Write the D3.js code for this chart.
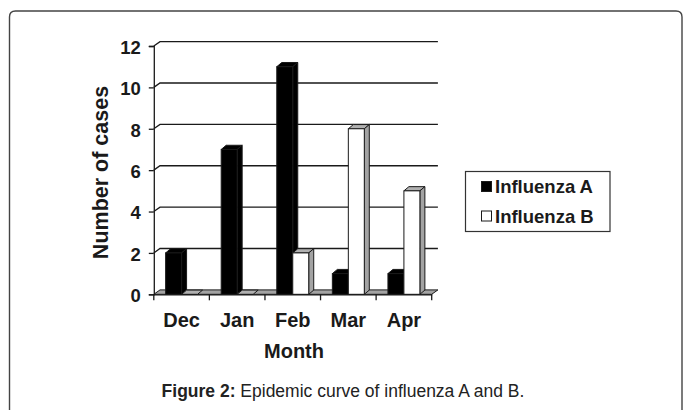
<!DOCTYPE html>
<html><head><meta charset="utf-8">
<script src="https://cdn.jsdelivr.net/npm/d3@7"></script>
<style>
html,body{margin:0;padding:0;background:#fff;}
svg{display:block;font-family:"Liberation Sans",Arial,sans-serif;}
</style></head>
<body>
<svg id="c" width="683" height="410"></svg>
<script>
const months = ["Dec","Jan","Feb","Mar","Apr"];
const series = ["Influenza A","Influenza B"];
const influenzaA = [2,7,11,1,1];
const influenzaB = [0,0,2,8,5];
const yTicks = [0,2,4,6,8,10,12];
const yTitle = "Number of cases";
const xTitle = "Month";
const captionBold = "Figure 2:";
const captionText = " Epidemic curve of influenza A and B.";

const svg = d3.select("#c");
const ink = "#1a1a1a";

// frame
svg.append("path")
  .attr("d","M9.5,420 L9.5,17 Q9.5,11 15.5,11 L676,11 Q682,11 682,17 L682,420")
  .attr("fill","none").attr("stroke","#444").attr("stroke-width",1.4);

const x0 = d3.scaleBand().domain(months).range([153.8,431.7]).paddingInner(0).paddingOuter(0);
const x1 = d3.scaleBand().domain(series).range([0,x0.bandwidth()]).paddingInner(0).paddingOuter(0.74);
const y = d3.scaleLinear().domain([0,12]).range([294.3,46]);

const wdx = 6.2, wdy = -4.4;   // wall depth
const bdx = 5, bdy = -4.2;     // bar depth
const xL = x0.range()[0], xR = x0.range()[1];

// gridlines on back wall + side wall diagonals
const g = svg.append("g");
yTicks.forEach(t=>{
  const yy = y(t);
  if(t>0){
    g.append("path").attr("d",`M${xL},${yy} L${xL+wdx},${yy+wdy} L${xR+wdx},${yy+wdy}`)
      .attr("fill","none").attr("stroke",ink).attr("stroke-width",1.3);
  }
});

// floor
svg.append("path")
  .attr("d",`M${xL},${y(0)} L${xL+wdx},${y(0)+wdy} L${xR+wdx},${y(0)+wdy} L${xR},${y(0)} Z`)
  .attr("fill","#a3a3a3").attr("stroke",ink).attr("stroke-width",1);

// y axis
const yAxis = d3.axisLeft(y).tickValues(yTicks).tickSize(5).tickPadding(10).tickFormat(d3.format("d"));
const ya = svg.append("g").attr("transform",`translate(${xL},0)`).call(yAxis);
ya.select(".domain").attr("stroke",ink).attr("stroke-width",1.3);
ya.selectAll(".tick line").attr("stroke",ink).attr("stroke-width",1.3);
ya.selectAll(".tick text").attr("font-size","18.5px").attr("font-weight","bold").attr("fill",ink)
  .attr("font-family","'Liberation Sans',Arial,sans-serif").attr("dy","0.4em").attr("x",-13);

// bars
function bar(xs, v, front, side, top){
  const w = x1.bandwidth();
  const yb = y(0), yt = y(v);
  const gg = svg.append("g");
  gg.append("path").attr("d",`M${xs},${yt} L${xs+bdx},${yt+bdy} L${xs+w+bdx},${yt+bdy} L${xs+w},${yt} Z`)
    .attr("fill",top).attr("stroke",ink).attr("stroke-width",1);
  if(v>0){
    gg.append("path").attr("d",`M${xs+w},${yt} L${xs+w+bdx},${yt+bdy} L${xs+w+bdx},${yb+bdy} L${xs+w},${yb} Z`)
      .attr("fill",side).attr("stroke",ink).attr("stroke-width",1);
    gg.append("rect").attr("x",xs).attr("y",yt).attr("width",w).attr("height",yb-yt)
      .attr("fill",front).attr("stroke",ink).attr("stroke-width",1);
  }
}
months.forEach((m,i)=>{
  bar(x0(m)+x1(series[0]), influenzaA[i], "#000", "#000", "#000");
  bar(x0(m)+x1(series[1]), influenzaB[i], "#fff", "#a3a3a3", "#b0b0b0");
});

// x axis
const xAxis = d3.axisBottom(x0).tickSize(0).tickPadding(19);
const xa = svg.append("g").attr("transform",`translate(0,${y(0)})`).call(xAxis);
xa.select(".domain").attr("stroke",ink).attr("stroke-width",1.3);
xa.selectAll(".tick text").attr("font-size","20px").attr("font-weight","bold").attr("fill",ink)
  .attr("font-family","'Liberation Sans',Arial,sans-serif");
// category separator ticks
const seps = months.map(m=>x0(m)).concat([xR]);
svg.append("g").selectAll("line").data(seps).join("line")
  .attr("x1",d=>d).attr("x2",d=>d).attr("y1",y(0)).attr("y2",y(0)+6)
  .attr("stroke",ink).attr("stroke-width",1.3);

// axis titles
svg.append("text").attr("transform","translate(107.5,172.5) rotate(-90)")
  .attr("text-anchor","middle").attr("font-size","21.5px").attr("font-weight","bold").attr("fill",ink).text(yTitle);
svg.append("text").attr("x",294).attr("y",358).attr("text-anchor","middle")
  .attr("font-size","20px").attr("font-weight","bold").attr("fill",ink).text(xTitle);

// legend
const lg = svg.append("g");
lg.append("rect").attr("x",465.5).attr("y",171.5).attr("width",144.5).attr("height",60)
  .attr("fill","#fff").attr("stroke","#333").attr("stroke-width",1.2);
const lcolors = ["#000","#fff"];
series.forEach((s,i)=>{
  const yy = 181.5 + i*29.5;
  lg.append("rect").attr("x",481.5).attr("y",yy).attr("width",10).attr("height",10)
    .attr("fill",lcolors[i]).attr("stroke",ink).attr("stroke-width",1);
  lg.append("text").attr("x",495).attr("y",yy+11.5).attr("font-size","18.5px").attr("font-weight","bold")
    .attr("fill",ink).text(s);
});

// caption
const cap = svg.append("text").attr("x",343).attr("y",397).attr("text-anchor","middle")
  .attr("font-size","17.5px").attr("fill","#222");
cap.append("tspan").attr("font-weight","bold").text(captionBold);
cap.append("tspan").text(captionText);
</script>
</body></html>
